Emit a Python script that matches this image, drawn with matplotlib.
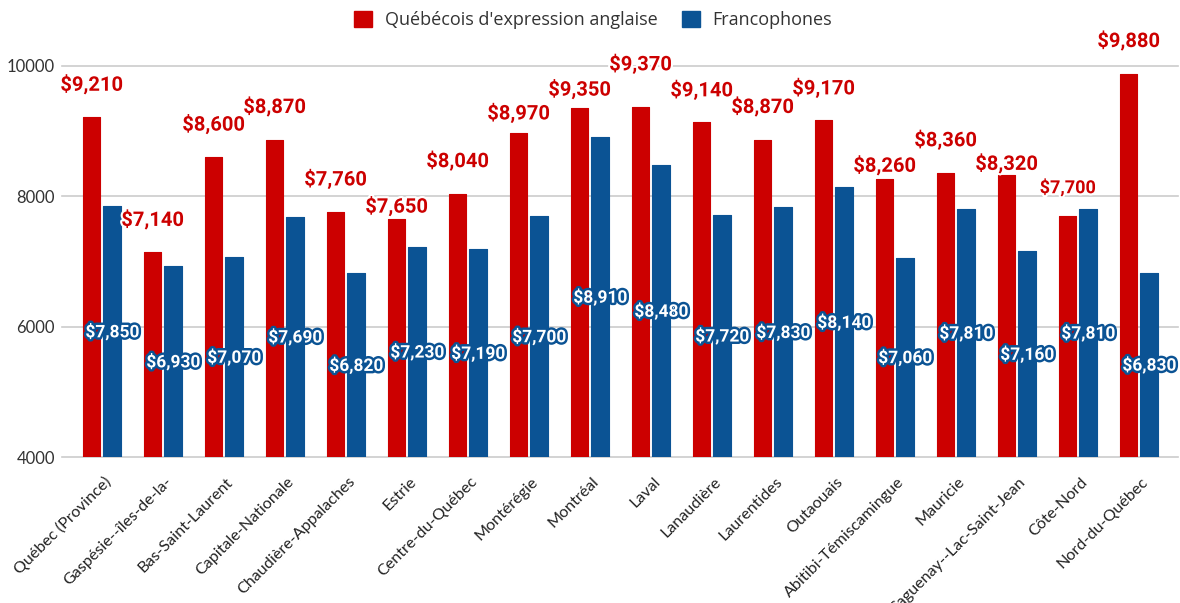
import numpy as np
import matplotlib
matplotlib.use("Agg")
import matplotlib.pyplot as plt
import matplotlib.patches as mpatches
import matplotlib.patheffects as pe
from matplotlib.transforms import ScaledTranslation

# ---- data ----
categories = ["Québec (Province)", "Gaspésie--îles-de-la-", "Bas-Saint-Laurent",
              "Capitale-Nationale", "Chaudière-Appalaches", "Estrie", "Centre-du-Québec",
              "Montérégie", "Montréal", "Laval", "Lanaudière", "Laurentides", "Outaouais",
              "Abitibi-Témiscamingue", "Mauricie", "Saguenay--Lac-Saint-Jean", "Côte-Nord",
              "Nord-du-Québec"]
anglo = [9210, 7140, 8600, 8870, 7760, 7650, 8040, 8970, 9350, 9370, 9140, 8870,
         9170, 8260, 8360, 8320, 7700, 9880]
franco = [7850, 6930, 7070, 7690, 6820, 7230, 7190, 7700, 8910, 8480, 7720, 7830,
          8140, 7060, 7810, 7160, 7810, 6830]
series_names = ["Québécois d'expression anglaise", "Francophones"]
y_ticks = [4000, 6000, 8000, 10000]

# ---- style / layout ----
RED = "#cc0000"
BLUE = "#0b5394"
red_label_offset_px = [33, 33, 33, 33, 33, 13, 33, 20, 19, 43, 32, 33, 32, 14, 33, 12, 28, 33]
red_label_size = [14.5] * 16 + [13, 14.5]

fig = plt.figure(figsize=(11.8, 6.03), dpi=100)
ax = fig.add_axes([0.0523, 0.2413, 0.9460, 0.6605])

x = np.arange(len(categories))
w = 0.29
off = 0.17
ax.bar(x - off, anglo, w, color=RED, edgecolor=RED, linewidth=0.8, joinstyle="round", zorder=2)
ax.bar(x + off, franco, w, color=BLUE, edgecolor=BLUE, linewidth=0.8, joinstyle="round", zorder=2)

ymin, ymax = 4000, 10100
ax.set_ylim(ymin, ymax)
ax.set_xlim(-0.66, 17.64)
ax.set_yticks(y_ticks)
ax.set_yticklabels([str(t) for t in y_ticks], fontsize=12, color="#333333", family="Lato")
ax.grid(axis="y", color="#cccccc", linewidth=1.2, zorder=0)
ax.set_axisbelow(True)
for ln in ax.get_ygridlines():
    ln.set_clip_on(False)
for s in ax.spines.values():
    s.set_visible(False)
ax.tick_params(axis="both", length=0)
ax.tick_params(axis="y", pad=5)
ax.tick_params(axis="x", pad=16)

ax.set_xticks(x)
ax.set_xticklabels(categories, rotation=45, ha="right", va="center",
                   rotation_mode="anchor", fontsize=11.6, color="#222222", family="Lato")
for lab in ax.get_xticklabels():
    lab.set_transform(lab.get_transform() + ScaledTranslation(0.07, 0, fig.dpi_scale_trans))

# red labels (above bars)
for i, v in enumerate(anglo):
    ax.annotate(f"${v:,}", xy=(x[i] - off, v), xytext=(0, red_label_offset_px[i]),
                textcoords="offset pixels", ha="center", va="center",
                fontsize=red_label_size[i], fontweight="bold", family="Roboto",
                color=RED, annotation_clip=False, zorder=5,
                path_effects=[pe.withStroke(linewidth=3, foreground="white")])

# blue labels (centered in bars)
for i, v in enumerate(franco):
    ax.text(x[i] + off, (ymin + v) / 2, f"${v:,}", ha="center", va="center",
            fontsize=12.5, fontweight="bold", family="Roboto", color="white", zorder=5,
            path_effects=[pe.withStroke(linewidth=3.5, foreground=BLUE)])

handles = [mpatches.Patch(facecolor=RED, edgecolor=RED, label=series_names[0]),
           mpatches.Patch(facecolor=BLUE, edgecolor=BLUE, label=series_names[1])]
leg = fig.legend(handles=handles, loc="center", bbox_to_anchor=(0.5025, 0.967), ncol=2,
                 frameon=False, handlelength=1.0, handleheight=1.0, handletextpad=0.72,
                 columnspacing=1.33, prop={"family": "Open Sans", "size": 13})
for t in leg.get_texts():
    t.set_color("#333333")

fig.savefig("out.png", dpi=100)
